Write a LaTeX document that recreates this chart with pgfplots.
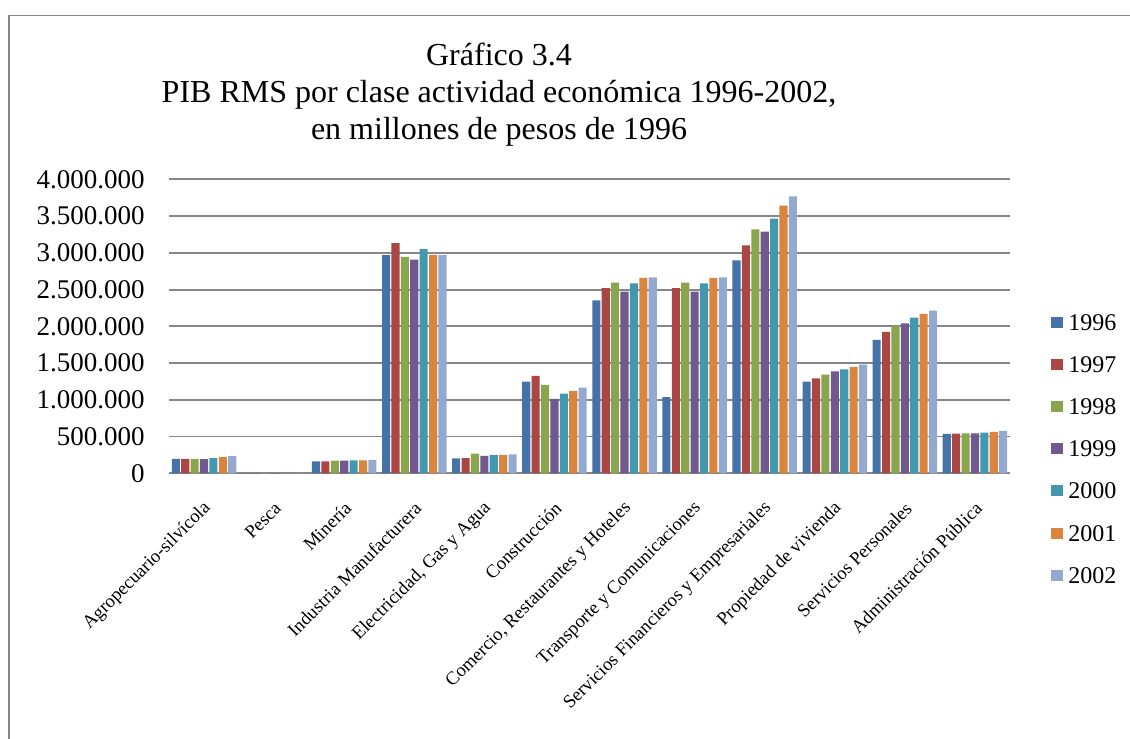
\documentclass[border=0pt]{standalone}
\usepackage{fontspec}
\setmainfont{Liberation Serif}
\usepackage{pgfplots}
\usepackage{pgfplotstable}
\pgfplotsset{compat=1.18}

\definecolor{c1996}{HTML}{4572A7}
\definecolor{c1997}{HTML}{AA4643}
\definecolor{c1998}{HTML}{89A54E}
\definecolor{c1999}{HTML}{71588F}
\definecolor{c2000}{HTML}{4198AF}
\definecolor{c2001}{HTML}{DB843D}
\definecolor{c2002}{HTML}{93A9CF}
\definecolor{gridgray}{HTML}{868686}
\definecolor{framegray}{HTML}{858585}

% PIB por clase de actividad, millones de pesos de 1996
\pgfplotstableread{
idx y1996   y1997   y1998   y1999   y2000   y2001   y2002
0   195000  195000  196000  194000  208000  222000  235000
1   1500    1500    1500    1500    1500    1500    1500
2   163000  163000  172000  172000  177000  177000  181000
3   2970000 3133000 2943000 2907000 3052000 2970000 2970000
4   204000  208000  268000  236000  249000  249000  258000
5   1247000 1324000 1202000 1011000 1084000 1120000 1166000
6   2354000 2521000 2594000 2472000 2585000 2658000 2667000
7   1038000 2521000 2594000 2472000 2585000 2658000 2667000
8   2898000 3102000 3320000 3288000 3465000 3642000 3768000
9   1247000 1292000 1342000 1388000 1415000 1447000 1478000
10  1814000 1923000 2004000 2041000 2118000 2168000 2213000
11  535000  540000  544000  544000  553000  562000  576000
}\pibtable

\begin{document}
\begin{tikzpicture}
\useasboundingbox (0,0) rectangle (565pt,369.5pt);
% chart frame
\draw[framegray, line width=0.6pt] (4.5pt,-20pt) rectangle (600pt,361.75pt);

% title
\node[anchor=base, font=\fontsize{16}{19}\selectfont] at (249.5pt,336.5pt) {Gráfico 3.4};
\node[anchor=base, font=\fontsize{16}{19}\selectfont] at (249.5pt,318pt) {PIB RMS por clase actividad económica 1996-2002,};
\node[anchor=base, font=\fontsize{16}{19}\selectfont] at (249.5pt,299.5pt) {en millones de pesos de 1996};

\begin{axis}[
  at={(84.5pt,132.85pt)}, anchor=south west,
  width=420.5pt, height=147pt, scale only axis,
  xmin=-0.5, xmax=11.5, ymin=0, ymax=4000000,
  ybar=0.65pt, bar width=4.05pt,
  axis x line*=bottom, axis y line*=left,
  y axis line style={draw=none},
  x axis line style={draw=gridgray, line width=1pt},
  ymajorgrids, grid style={gridgray, line width=0.95pt},
  ytick={0,500000,1000000,1500000,2000000,2500000,3000000,3500000,4000000},
  scaled y ticks=false,
  major tick length=0pt,
  yticklabel style={/pgf/number format/.cd, fixed, 1000 sep={.}, assume math mode=true,
    /tikz/.cd, font=\fontsize{13.5}{16}\selectfont, anchor=east, inner sep=0pt, xshift=-12pt},
  xtick={0,1,2,3,4,5,6,7,8,9,10,11},
  xticklabels={Agropecuario-silvícola, Pesca, Minería, Industria Manufacturera,
    {Electricidad, Gas y Agua}, Construcción, {Comercio, Restaurantes y Hoteles},
    Transporte y Comunicaciones, Servicios Financieros y Empresariales,
    Propiedad de vivienda, Servicios Personales, Administración Pública},
  xticklabel style={font=\fontsize{9.3}{11}\selectfont, inner sep=0pt,
    xshift=2pt, yshift=-16pt, rotate=45, anchor=east},
  legend style={at={(1.0488,0.543)}, anchor=north west, draw=none, fill=none,
    inner sep=0pt, column sep=2.5pt, row sep=13.1pt,
    font=\fontsize{12}{14}\selectfont,
    nodes={inner sep=0pt, text height=8pt, text depth=0pt}},
  legend cell align=left,
  legend image code/.code={\fill[#1] (0pt,-2.75pt) rectangle (6pt,2.75pt);},
]
\addplot[fill=c1996, draw=none] table[x=idx, y=y1996] {\pibtable};
\addplot[fill=c1997, draw=none] table[x=idx, y=y1997] {\pibtable};
\addplot[fill=c1998, draw=none] table[x=idx, y=y1998] {\pibtable};
\addplot[fill=c1999, draw=none] table[x=idx, y=y1999] {\pibtable};
\addplot[fill=c2000, draw=none] table[x=idx, y=y2000] {\pibtable};
\addplot[fill=c2001, draw=none] table[x=idx, y=y2001] {\pibtable};
\addplot[fill=c2002, draw=none] table[x=idx, y=y2002] {\pibtable};
\legend{1996,1997,1998,1999,2000,2001,2002}
\end{axis}
\end{tikzpicture}
\end{document}
